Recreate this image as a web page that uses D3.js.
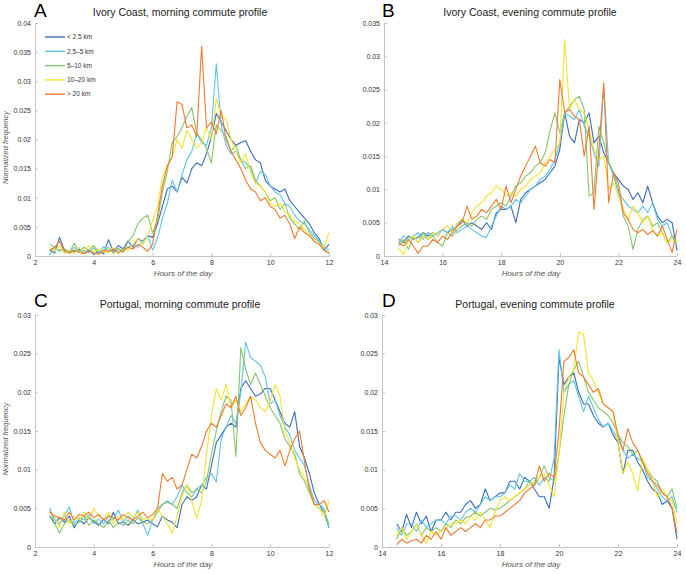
<!DOCTYPE html>
<html><head><meta charset="utf-8">
<script src="https://cdn.jsdelivr.net/npm/d3@7"></script>
<style>
body{margin:0;background:#fff}
text{font-family:"Liberation Sans",Arial,Helvetica,sans-serif}
</style>
</head><body>
<svg id="chart" width="686" height="574"></svg>
<script>
// ---- series labels / colours ----
const legendLabels = ["< 2.5 km", "2.5\u20135 km", "5\u201310 km", "10\u201320 km", "> 20 km"];
const seriesColors = ["#3b6db6", "#5fc3e4", "#86c46c", "#f3e32c", "#ee7a2f"];

// time grid: 10-minute bins
const morningStartHour = 2.5, eveningStartHour = 14.5, binHours = 1 / 6;
const xTicksMorning = [2, 4, 6, 8, 10, 12];
const xTicksEvening = [14, 16, 18, 20, 22, 24];
const yTicks040 = [0, 0.005, 0.01, 0.015, 0.02, 0.025, 0.03, 0.035, 0.04];
const yTicks035 = [0, 0.005, 0.01, 0.015, 0.02, 0.025, 0.03, 0.035];
const yTicks030 = [0, 0.005, 0.01, 0.015, 0.02, 0.025, 0.03];

// values in thousandths (x 0.001 normalized frequency)
// A: Ivory Coast, morning
const icAM_lt2_5 = [1.0,0.5,3.2,1.0,0.6,0.8,1.2,0.5,1.0,0.3, 0.8,0.4,2.8,0.8,1.8,1.2,2.6,1.5,3.0,2.5, 3.5,3.2,5.5,8.5,11.5,12.0,11.0,13.5,12.5,15.0, 16.0,15.5,17.5,20.5,24.5,23.0,21.5,20.0,19.0,19.5, 19.8,18.0,16.5,16.0,13.0,12.0,11.5,11.0,11.5,9.5, 8.5,7.5,6.5,5.5,4.0,3.0,1.0,2.0];
const icAM_2_5to5 = [0.2,1.5,0.8,1.2,0.5,1.5,0.8,1.0,0.6,1.4, 0.5,1.6,1.0,0.7,1.3,0.8,1.5,2.0,1.5,2.5, 3.5,1.0,3.0,6.5,9.0,13.0,11.0,14.0,16.5,18.0, 21.0,19.5,19.0,22.0,33.0,22.5,19.0,17.5,18.0,16.5, 16.0,15.0,12.5,14.5,14.0,12.0,11.0,10.5,9.0,8.5, 7.0,6.0,5.5,4.5,3.5,2.5,1.5,1.0];
const icAM_5to10 = [2.0,1.5,1.0,1.2,0.6,2.2,0.8,1.5,1.0,1.8, 0.7,1.0,1.5,0.5,1.2,0.6,2.5,3.5,5.5,6.5, 7.0,4.0,6.0,11.0,14.5,19.5,20.5,22.0,24.0,25.5, 21.0,20.0,18.5,16.0,22.5,21.5,20.5,18.0,19.0,16.5, 15.0,15.5,13.0,12.0,11.0,9.5,10.0,8.0,9.0,6.5, 5.5,4.5,6.0,4.0,3.0,2.5,1.0,0.5];
const icAM_10to20 = [1.5,0.8,1.8,0.5,1.0,0.4,1.5,0.6,1.8,0.7, 1.2,0.8,0.5,1.5,0.4,1.2,1.0,2.0,3.0,2.0, 3.5,6.0,8.5,13.5,15.5,17.0,20.0,18.5,21.5,20.0, 18.5,19.5,22.0,20.0,27.0,24.0,23.5,20.0,18.0,16.0, 17.5,14.5,12.5,12.0,11.0,9.0,8.5,9.0,7.5,7.0, 6.0,5.5,4.5,3.5,2.5,2.0,1.5,4.0];
const icAM_gt20 = [1.0,1.5,2.5,0.8,0.5,1.0,0.6,0.4,0.8,0.5, 0.3,1.0,0.8,1.2,0.6,1.0,1.5,1.2,2.0,1.5, 0.8,2.0,7.0,12.0,15.5,17.0,26.5,26.0,22.0,22.5, 20.5,36.0,22.0,23.0,21.0,25.0,20.0,18.0,16.5,15.0, 13.0,11.5,11.0,9.5,10.0,8.5,8.0,6.5,7.0,5.5, 3.0,5.0,4.0,3.5,2.5,2.0,1.0,0.5];

// B: Ivory Coast, evening
const icPM_lt2_5 = [2.5,2.0,3.0,2.5,2.8,3.5,3.0,3.5,3.0,4.0, 3.5,4.0,4.5,5.5,4.5,5.0,4.5,4.0,5.0,4.0, 6.5,7.0,7.0,7.5,5.0,8.5,9.5,10.0,10.5,11.0, 11.5,12.5,13.5,16.0,21.5,18.0,17.0,20.5,20.0,21.5, 17.0,18.0,15.5,14.0,12.5,11.5,10.5,10.0,8.5,9.5, 8.0,10.5,8.0,6.0,5.0,5.5,5.0,0.8];
const icPM_2_5to5 = [2.0,3.0,2.5,3.0,3.5,2.5,3.5,3.0,3.5,4.0, 3.5,4.5,3.5,4.0,4.5,4.0,3.5,3.0,2.8,4.5, 6.0,7.5,7.0,7.5,8.5,8.0,9.0,10.0,10.5,11.5, 12.0,13.0,14.5,17.0,21.5,21.0,20.5,22.0,19.5,18.0, 15.5,13.5,25.5,14.0,12.0,9.5,8.5,7.5,7.0,6.5, 7.5,6.5,8.0,5.5,4.5,5.0,3.0,1.5];
const icPM_5to10 = [1.5,2.5,1.0,3.0,2.0,3.5,2.5,3.0,2.0,1.5, 3.5,3.0,4.0,4.5,5.0,4.5,5.5,6.0,5.5,7.0, 7.5,8.0,7.5,9.0,10.5,11.0,12.0,12.5,13.5,14.0, 15.5,18.8,21.5,18.5,21.5,22.5,23.5,24.0,22.0,9.0, 9.5,19.5,17.0,14.0,12.5,10.0,6.0,4.5,1.0,4.0, 5.5,6.0,4.5,5.0,3.5,2.0,3.0,2.0];
const icPM_10to20 = [1.2,0.2,2.5,3.0,2.0,3.0,2.5,3.5,3.0,4.0, 4.5,3.5,5.0,5.5,5.0,6.5,7.5,8.0,9.0,9.5, 10.5,10.0,9.0,9.5,9.0,10.0,10.5,11.5,12.0,12.5, 14.0,15.0,16.0,17.0,32.5,22.0,23.5,22.0,21.5,19.0, 16.0,14.5,15.0,10.0,11.0,9.0,7.0,5.5,7.5,6.5, 5.0,6.0,4.0,3.0,3.5,2.0,2.5,2.0];
const icPM_gt20 = [2.0,1.5,2.5,1.5,0.4,1.5,1.5,2.5,2.0,3.0, 2.5,3.5,4.5,5.0,7.5,5.5,6.0,7.0,6.5,7.5, 8.5,7.0,10.5,8.0,10.0,12.0,13.5,15.0,16.5,14.0, 13.5,14.5,14.0,26.5,21.5,22.0,21.0,20.5,15.0,19.5, 7.0,16.0,26.0,8.0,12.5,11.0,6.5,5.5,4.0,3.5, 4.0,3.2,3.8,3.0,4.5,2.5,0.5,4.0];

// C: Portugal, morning
const ptAM_lt2_5 = [4.0,3.0,3.8,3.2,4.0,2.5,3.5,3.0,3.8,3.3, 2.8,3.6,3.0,4.5,3.0,3.2,2.8,3.5,3.0,3.2, 3.5,3.0,2.6,4.0,3.5,3.2,2.5,5.5,6.5,6.0, 6.5,8.0,7.5,10.5,13.5,14.5,15.5,16.0,15.5,20.5, 21.5,20.5,19.5,19.8,20.5,20.5,19.0,17.5,16.0,15.5, 17.5,13.0,11.5,9.5,7.0,5.5,4.5,2.5];
const ptAM_2_5to5 = [5.0,3.5,3.0,4.0,5.2,3.0,3.8,3.5,4.2,3.0, 3.6,3.0,4.0,3.5,4.8,3.2,4.0,3.5,4.8,3.0, 1.5,3.5,5.0,5.5,6.0,5.5,6.5,8.0,7.0,6.5, 7.5,8.0,9.0,9.5,8.4,14.0,15.5,17.0,16.0,20.0, 26.5,24.5,24.0,23.5,22.0,18.5,19.0,17.0,15.5,14.5, 12.5,11.5,10.5,8.0,6.0,5.5,5.0,2.5];
const ptAM_5to10 = [5.0,3.0,1.8,3.0,3.5,2.8,3.2,4.0,2.8,3.5, 3.0,2.5,3.5,2.5,3.2,2.8,3.5,3.0,3.8,3.2, 3.0,3.5,4.5,5.5,5.8,5.5,5.0,7.0,8.0,7.0, 7.5,7.0,8.5,12.0,15.0,17.5,19.5,19.0,11.7,25.8, 23.0,21.0,22.5,21.0,19.5,18.0,17.0,16.0,14.0,13.0, 12.0,9.5,8.5,7.0,5.5,5.0,4.5,3.0];
const ptAM_10to20 = [4.5,4.0,2.5,4.5,3.0,4.0,3.5,4.5,3.5,5.0, 4.0,3.5,4.5,3.0,4.0,3.5,4.5,3.8,4.5,3.5, 3.8,3.5,5.0,4.0,3.0,1.8,4.0,6.5,8.0,6.0, 3.7,6.0,12.0,17.0,20.5,19.0,21.0,18.0,19.0,17.5, 18.5,19.5,19.0,18.0,17.5,19.0,21.0,19.5,15.0,13.5, 11.5,10.0,9.0,7.5,5.5,5.0,4.0,6.0];
const ptAM_gt20 = [4.5,4.0,3.8,3.5,4.5,3.5,4.2,4.0,4.5,3.8, 4.2,3.5,4.0,3.8,3.5,4.2,3.8,3.5,4.0,4.5, 3.8,4.2,5.0,9.5,8.5,9.0,7.5,8.0,10.0,12.0, 11.5,13.0,15.0,16.0,15.5,17.0,18.5,18.0,19.5,17.0, 18.0,19.5,16.0,13.5,12.5,12.0,11.5,12.5,10.5,12.5, 14.0,15.0,11.0,7.5,5.5,5.5,6.0,4.5];

// D: Portugal, evening
const ptPM_lt2_5 = [3.0,2.0,4.2,2.5,4.5,3.0,4.0,2.0,3.5,3.5, 4.5,3.5,4.5,4.5,5.5,6.0,5.0,5.5,7.5,6.0, 6.5,7.0,7.0,8.5,8.5,7.5,9.0,8.5,7.5,6.5, 6.5,5.0,9.0,24.5,21.0,22.0,22.5,20.0,18.5,18.5, 17.0,16.0,15.5,16.0,14.5,13.5,9.5,12.5,12.5,11.0, 10.0,8.5,7.5,7.0,5.5,6.0,5.0,1.0];
const ptPM_2_5to5 = [2.5,1.5,3.0,3.0,2.0,3.5,2.5,3.0,3.5,3.5, 3.0,4.0,4.0,3.5,4.5,5.0,4.5,5.5,6.5,6.0, 6.5,6.5,7.0,8.0,7.5,9.5,8.5,8.5,9.0,8.0, 9.0,8.5,11.5,25.5,20.0,21.0,21.5,19.5,17.5,19.5, 18.0,16.5,15.5,16.0,15.0,14.0,12.5,11.5,12.0,11.5, 11.0,9.0,8.5,7.5,6.5,6.0,6.5,4.5];
const ptPM_5to10 = [1.0,2.5,1.5,2.0,3.0,1.5,2.5,2.0,2.5,2.0, 3.0,2.5,3.5,3.0,3.8,4.0,4.5,4.0,4.5,5.0, 4.8,5.0,5.5,6.0,6.5,7.0,7.5,8.5,8.0,9.0, 10.5,9.0,8.5,12.0,17.0,21.0,23.0,24.0,22.0,20.0, 19.0,18.0,17.5,17.0,16.0,14.5,13.5,13.0,12.0,12.5, 11.0,10.0,9.0,8.5,7.0,6.5,7.5,5.0];
const ptPM_10to20 = [1.5,2.5,1.0,2.0,3.0,1.5,0.5,2.0,1.5,2.0, 2.5,3.0,3.0,3.5,3.0,4.0,3.5,4.5,3.5,2.5, 4.5,6.0,6.5,6.0,6.5,7.0,7.5,8.0,8.5,9.0, 9.5,8.0,6.5,12.0,20.0,22.0,23.0,27.8,27.5,22.5, 21.5,20.0,18.5,18.0,17.5,13.5,9.5,11.0,9.5,7.3, 11.5,10.0,8.5,6.5,7.5,6.5,6.0,3.0];
const ptPM_gt20 = [0.3,1.0,0.5,0.8,1.0,0.5,1.5,1.0,2.0,1.0, 2.5,1.5,2.0,2.5,2.0,2.5,3.0,2.5,3.5,3.5, 4.0,4.0,4.5,5.0,5.5,6.0,7.0,7.5,8.0,10.5, 8.5,9.5,9.0,15.0,24.0,24.5,25.5,22.5,22.0,21.0, 20.0,20.5,18.5,18.0,17.5,14.5,12.5,15.3,13.5,12.5, 11.0,9.5,8.5,8.0,7.0,6.5,5.0,1.8];

const valueUnit = 0.001;

const panels = [
  {letter:"A", title:"Ivory Coast, morning commute profile",
   series:[icAM_lt2_5, icAM_2_5to5, icAM_5to10, icAM_10to20, icAM_gt20],
   start:morningStartHour, xDomain:[2,12], xTicks:xTicksMorning, yTicks:yTicks040,
   left:35, right:329, top:23, bottom:256, ylabel:true, legend:true,
   titleX:180, titleY:16, letterX:34, letterY:17, xlabelX:183, xlabelY:276},
  {letter:"B", title:"Ivory Coast, evening commute profile",
   series:[icPM_lt2_5, icPM_2_5to5, icPM_5to10, icPM_10to20, icPM_gt20],
   start:eveningStartHour, xDomain:[14,24], xTicks:xTicksEvening, yTicks:yTicks035,
   left:384, right:677, top:23, bottom:256, ylabel:false, legend:false,
   titleX:530, titleY:16, letterX:382, letterY:17, xlabelX:531, xlabelY:276},
  {letter:"C", title:"Portugal, morning commute profile",
   series:[ptAM_lt2_5, ptAM_2_5to5, ptAM_5to10, ptAM_10to20, ptAM_gt20],
   start:morningStartHour, xDomain:[2,12], xTicks:xTicksMorning, yTicks:yTicks030,
   left:35, right:329, top:315, bottom:547, ylabel:true, legend:false,
   titleX:180, titleY:308, letterX:34, letterY:307, xlabelX:183, xlabelY:567},
  {letter:"D", title:"Portugal, evening commute profile",
   series:[ptPM_lt2_5, ptPM_2_5to5, ptPM_5to10, ptPM_10to20, ptPM_gt20],
   start:eveningStartHour, xDomain:[14,24], xTicks:xTicksEvening, yTicks:yTicks030,
   left:382, right:677, top:315, bottom:547, ylabel:false, legend:false,
   titleX:535, titleY:308, letterX:382, letterY:307, xlabelX:531, xlabelY:567}
];

const svg = d3.select("#chart");
const axisColor = "#c4c4c4", labelColor = "#333";
const fmt = d => d === 0 ? "0" : String(+d.toFixed(3));

panels.forEach(p => {
  const g = svg.append("g");
  const x = d3.scaleLinear().domain(p.xDomain).range([p.left, p.right]);
  const yMax = p.yTicks[p.yTicks.length - 1];
  const y = d3.scaleLinear().domain([0, yMax]).range([p.bottom, p.top]);

  const xAxis = g.append("g").attr("transform", `translate(0,${p.bottom})`)
    .call(d3.axisBottom(x).tickValues(p.xTicks).tickFormat(d => d).tickSizeInner(-3).tickSizeOuter(0).tickPadding(4));
  const yAxis = g.append("g").attr("transform", `translate(${p.left},0)`)
    .call(d3.axisLeft(y).tickValues(p.yTicks).tickFormat(fmt).tickSizeInner(-3).tickSizeOuter(0).tickPadding(4));
  [xAxis, yAxis].forEach(a => {
    a.select(".domain").attr("stroke", axisColor);
    a.selectAll(".tick line").attr("stroke", axisColor);
    a.selectAll(".tick text").attr("fill", labelColor).style("font-size", "7px");
  });

  const line = d3.line()
    .x((d, i) => x(p.start + i * binHours))
    .y(d => y(d * valueUnit));

  p.series.forEach((s, k) => {
    g.append("path").datum(s).attr("d", line)
      .attr("fill", "none").attr("stroke", seriesColors[k])
      .attr("stroke-width", 1.1).attr("stroke-linejoin", "round");
  });

  g.append("text").attr("x", p.letterX).attr("y", p.letterY)
    .style("font-size", "19px").attr("fill", "#000").text(p.letter);
  g.append("text").attr("x", p.titleX).attr("y", p.titleY).attr("text-anchor", "middle")
    .style("font-size", "10.5px").attr("fill", "#222").text(p.title);
  g.append("text").attr("x", p.xlabelX).attr("y", p.xlabelY).attr("text-anchor", "middle")
    .style("font-size", "8px").style("font-style", "italic").attr("fill", "#555").text("Hours of the day");
  if (p.ylabel) {
    g.append("text").attr("transform", `translate(8,${(p.top + p.bottom) / 2 + 8}) rotate(-90)`)
      .attr("text-anchor", "middle").style("font-size", "7.5px").style("font-style", "italic")
      .attr("fill", "#555").text("Normalized frequency");
  }
  if (p.legend) {
    const lg = g.append("g");
    legendLabels.forEach((lab, k) => {
      const yy = 37 + k * 14.3;
      lg.append("line").attr("x1", 45).attr("x2", 65).attr("y1", yy).attr("y2", yy)
        .attr("stroke", seriesColors[k]).attr("stroke-width", 1.4);
      lg.append("text").attr("x", 67).attr("y", yy).attr("dy", "0.35em")
        .style("font-size", "6.5px").attr("fill", labelColor).text(lab);
    });
  }
});
</script>
</body></html>
